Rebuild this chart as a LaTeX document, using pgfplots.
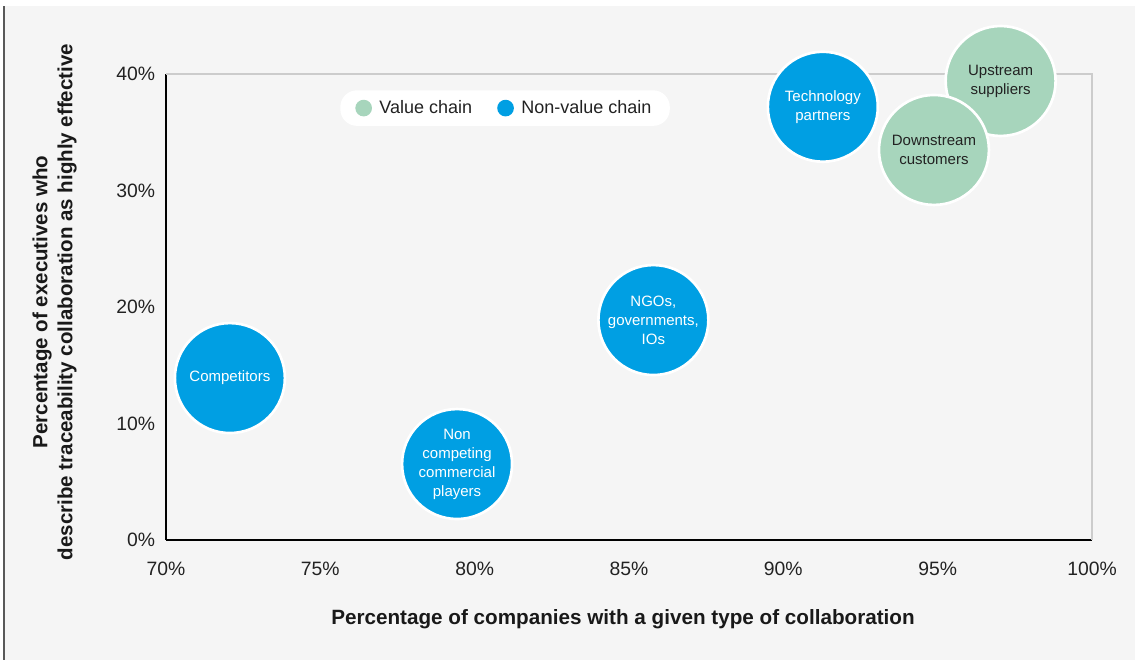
\documentclass[border=0pt]{standalone}
\usepackage{pgfplots}
\pgfplotsset{compat=1.18}
\usepackage{fontspec}
\setmainfont{Liberation Sans}
\definecolor{bluec}{HTML}{009FE3}
\definecolor{greenc}{HTML}{A7D5BC}
\definecolor{bgc}{HTML}{F5F5F5}
\definecolor{framec}{HTML}{CCCCCC}
\definecolor{txt}{HTML}{222222}
\begin{document}
\begin{tikzpicture}
\useasboundingbox (0pt,0pt) rectangle (681pt,396pt);
\begin{scope}[x=0.6pt,y=0.6pt]
\fill[bgc] (0,0) rectangle (1135,660);
\fill[white] (0,654) rectangle (1135,660);
\fill[white] (0,0) rectangle (2.5,654);
\fill[black!65] (2.5,0) rectangle (4.8,654);
\end{scope}
\begin{axis}[
  at={(99.6pt,72pt)}, anchor=south west,
  scale only axis, width=555.6pt, height=279.6pt,
  xmin=70, xmax=100, ymin=0, ymax=40,
  axis x line=bottom, axis y line=left,
  x axis line style={-, black, line width=1.5pt},
  y axis line style={-, black, line width=1.2pt},
  xtick={70,75,80,85,90,95,100}, ytick={0,10,20,30,40},
  xticklabels={70\%,75\%,80\%,85\%,90\%,95\%,100\%},
  yticklabels={0\%,10\%,20\%,30\%,40\%},
  major tick length=0pt,
  tick label style={font=\fontsize{11.6}{14}\selectfont, text=txt},
  xticklabel style={yshift=-9.6pt},
  yticklabel style={xshift=-3pt},
  clip=false,
  legend columns=2,
  legend cell align=left,
  legend style={at={(rel axis cs:0.1879,0.9657)}, anchor=north west,
    fill=white, draw=none, rounded corners=10pt,
    font=\fontsize{10.8}{12.8}\selectfont, text=txt,
    inner xsep=9pt, inner ysep=4pt,
    /tikz/every odd column/.append style={column sep=2.5pt},
    /tikz/every even column/.append style={column sep=13pt}},
  legend image code/.code={\fill[#1,draw=none] (0pt,0pt) circle (5pt);},
]
\draw[framec, line width=1.2pt] (rel axis cs:0,1) -- (rel axis cs:1,1) -- (rel axis cs:1,0);
\addlegendimage{only marks, mark=*, color=greenc}
\addlegendentry{Value chain}
\addplot[only marks, mark=*, color=bluec, mark size=33pt,
  mark options={fill=bluec, draw=white, line width=1.6pt}]
  coordinates {(72.07,13.9) (79.43,6.52) (85.79,18.88) (91.28,37.19)};
\addlegendentry{Non-value chain}
\addplot[only marks, mark=*, color=greenc, mark size=33pt,
  mark options={fill=greenc, draw=white, line width=1.6pt}, forget plot]
  coordinates {(97.04,39.40) (94.88,33.48)};
\coordinate (b1) at (axis cs:72.07,13.9);
\coordinate (b2) at (axis cs:79.43,6.52);
\coordinate (b3) at (axis cs:85.79,18.88);
\coordinate (b4) at (axis cs:91.28,37.19);
\coordinate (b5) at (axis cs:97.04,39.40);
\coordinate (b6) at (axis cs:94.88,33.48);
\end{axis}
\begin{scope}[every node/.style={align=center, font=\fontsize{9}{11.4}\selectfont}]
\node[text=white] at (b1) {Competitors};
\node[text=white] at (b2) {Non\\competing\\commercial\\players};
\node[text=white] at (b3) {NGOs,\\governments,\\IOs};
\node[text=white] at (b4) {Technology\\partners};
\node[text=txt] at (b5) {Upstream\\suppliers};
\node[text=txt] at (b6) {Downstream\\customers};
\end{scope}
\node[font=\bfseries\fontsize{12.4}{15}\selectfont, text=black!90] at (373.8pt,24.6pt)
  {Percentage of companies with a given type of collaboration};
\node[rotate=90, align=center, font=\bfseries\fontsize{12.3}{15}\selectfont, text=black!90] at (32.7pt,214.8pt)
  {Percentage of executives who\\describe traceability collaboration as highly effective};
\end{tikzpicture}
\end{document}
